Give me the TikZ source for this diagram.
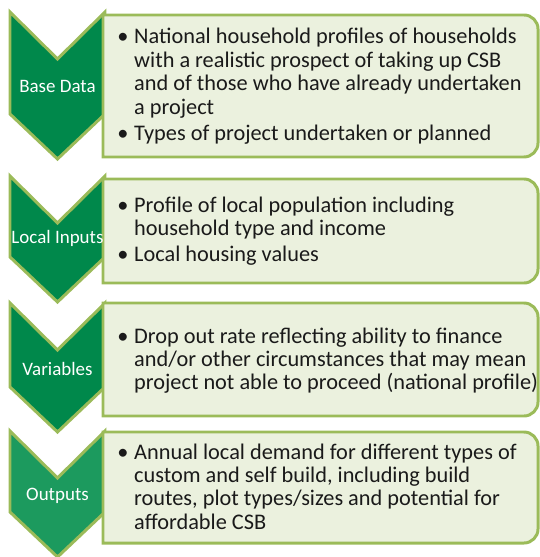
\documentclass[tikz,border=0pt]{standalone}
\usepackage{fontspec}
\setmainfont{Carlito}

\definecolor{chevgreen}{HTML}{00884B}
\definecolor{chevlight}{HTML}{1C9A5E}
\definecolor{rimgreen}{HTML}{9BBB59}
\definecolor{boxfill}{HTML}{EBF1DE}
\definecolor{textdark}{HTML}{1A1A1A}

\begin{document}
\begin{tikzpicture}[x=0.02cm,y=-0.02cm,line join=miter,
  chevron/.style={fill=chevgreen,draw=rimgreen,line width=1.7pt},
  panel/.style={fill=boxfill,draw=rimgreen,line width=1.7pt},
  stage/.style={text=white,inner sep=0pt,font=\fontsize{10.8}{12}\selectfont},
  notes/.style={anchor=base west,inner sep=0pt,text=textdark,font=\fontsize{12.7}{13.3}\selectfont}]
  \useasboundingbox (0,0) rectangle (539,557);

  \draw[chevron] (10,12) -- (57.5,59) -- (105,12) -- (105,114) -- (57.5,159) -- (10,114) -- cycle;
  \draw[chevron] (10,176) -- (57.5,223) -- (105,176) -- (105,257) -- (57.5,302) -- (10,257) -- cycle;
  \draw[chevron] (10,303) -- (57.5,350) -- (105,303) -- (105,387) -- (57.5,432) -- (10,387) -- cycle;
  \draw[chevron,fill=chevlight] (10,431) -- (57.5,478) -- (105,431) -- (105,512) -- (57.5,557) -- (10,512) -- cycle;

  \draw[panel] (103,15) -- (524,15) arc(-90:0:14) -- (538,143) arc(0:90:14) -- (103,157) -- cycle;
  \draw[panel] (103,179) -- (524,179) arc(-90:0:14) -- (538,269) arc(0:90:14) -- (103,283) -- cycle;
  \draw[panel] (103,303) -- (524,303) arc(-90:0:14) -- (538,402) arc(0:90:14) -- (103,416) -- cycle;
  \draw[panel] (103,432) -- (524,432) arc(-90:0:14) -- (538,529) arc(0:90:14) -- (103,543) -- cycle;

  \node[stage] (base) at (57.5,86) {Base Data};
  \node[stage] (local) at (57.5,238) {Local Inputs};
  \node[stage] (vars) at (57.5,369) {Variables};
  \node[stage] (outs) at (57.5,496) {Outputs};

  \node[notes] (base-notes) at (117,44) {\begin{tabular}[t]{@{}p{9.6pt}@{}l@{}}
    \textbullet & National household profiles of households\\
    & with a realistic prospect of taking up CSB\\
    & and of those who have already undertaken\\
    & a project\\[1.5pt]
    \textbullet & Types of project undertaken or planned
  \end{tabular}};
  \node[notes] (local-notes) at (117,212) {\begin{tabular}[t]{@{}p{9.6pt}@{}l@{}}
    \textbullet & Profile of local population including\\
    & household type and income\\[1.5pt]
    \textbullet & Local housing values
  \end{tabular}};
  \node[notes] (vars-notes) at (117,343) {\begin{tabular}[t]{@{}p{9.6pt}@{}l@{}}
    \textbullet & Drop out rate reflecting ability to finance\\
    & and/or other circumstances that may mean\\
    & project not able to proceed (national profile)
  \end{tabular}};
  \node[notes] (outs-notes) at (117,459) {\begin{tabular}[t]{@{}p{9.6pt}@{}l@{}}
    \textbullet & Annual local demand for different types of\\
    & custom and self build, including build\\
    & routes, plot types/sizes and potential for\\
    & affordable CSB
  \end{tabular}};
\end{tikzpicture}
\end{document}
